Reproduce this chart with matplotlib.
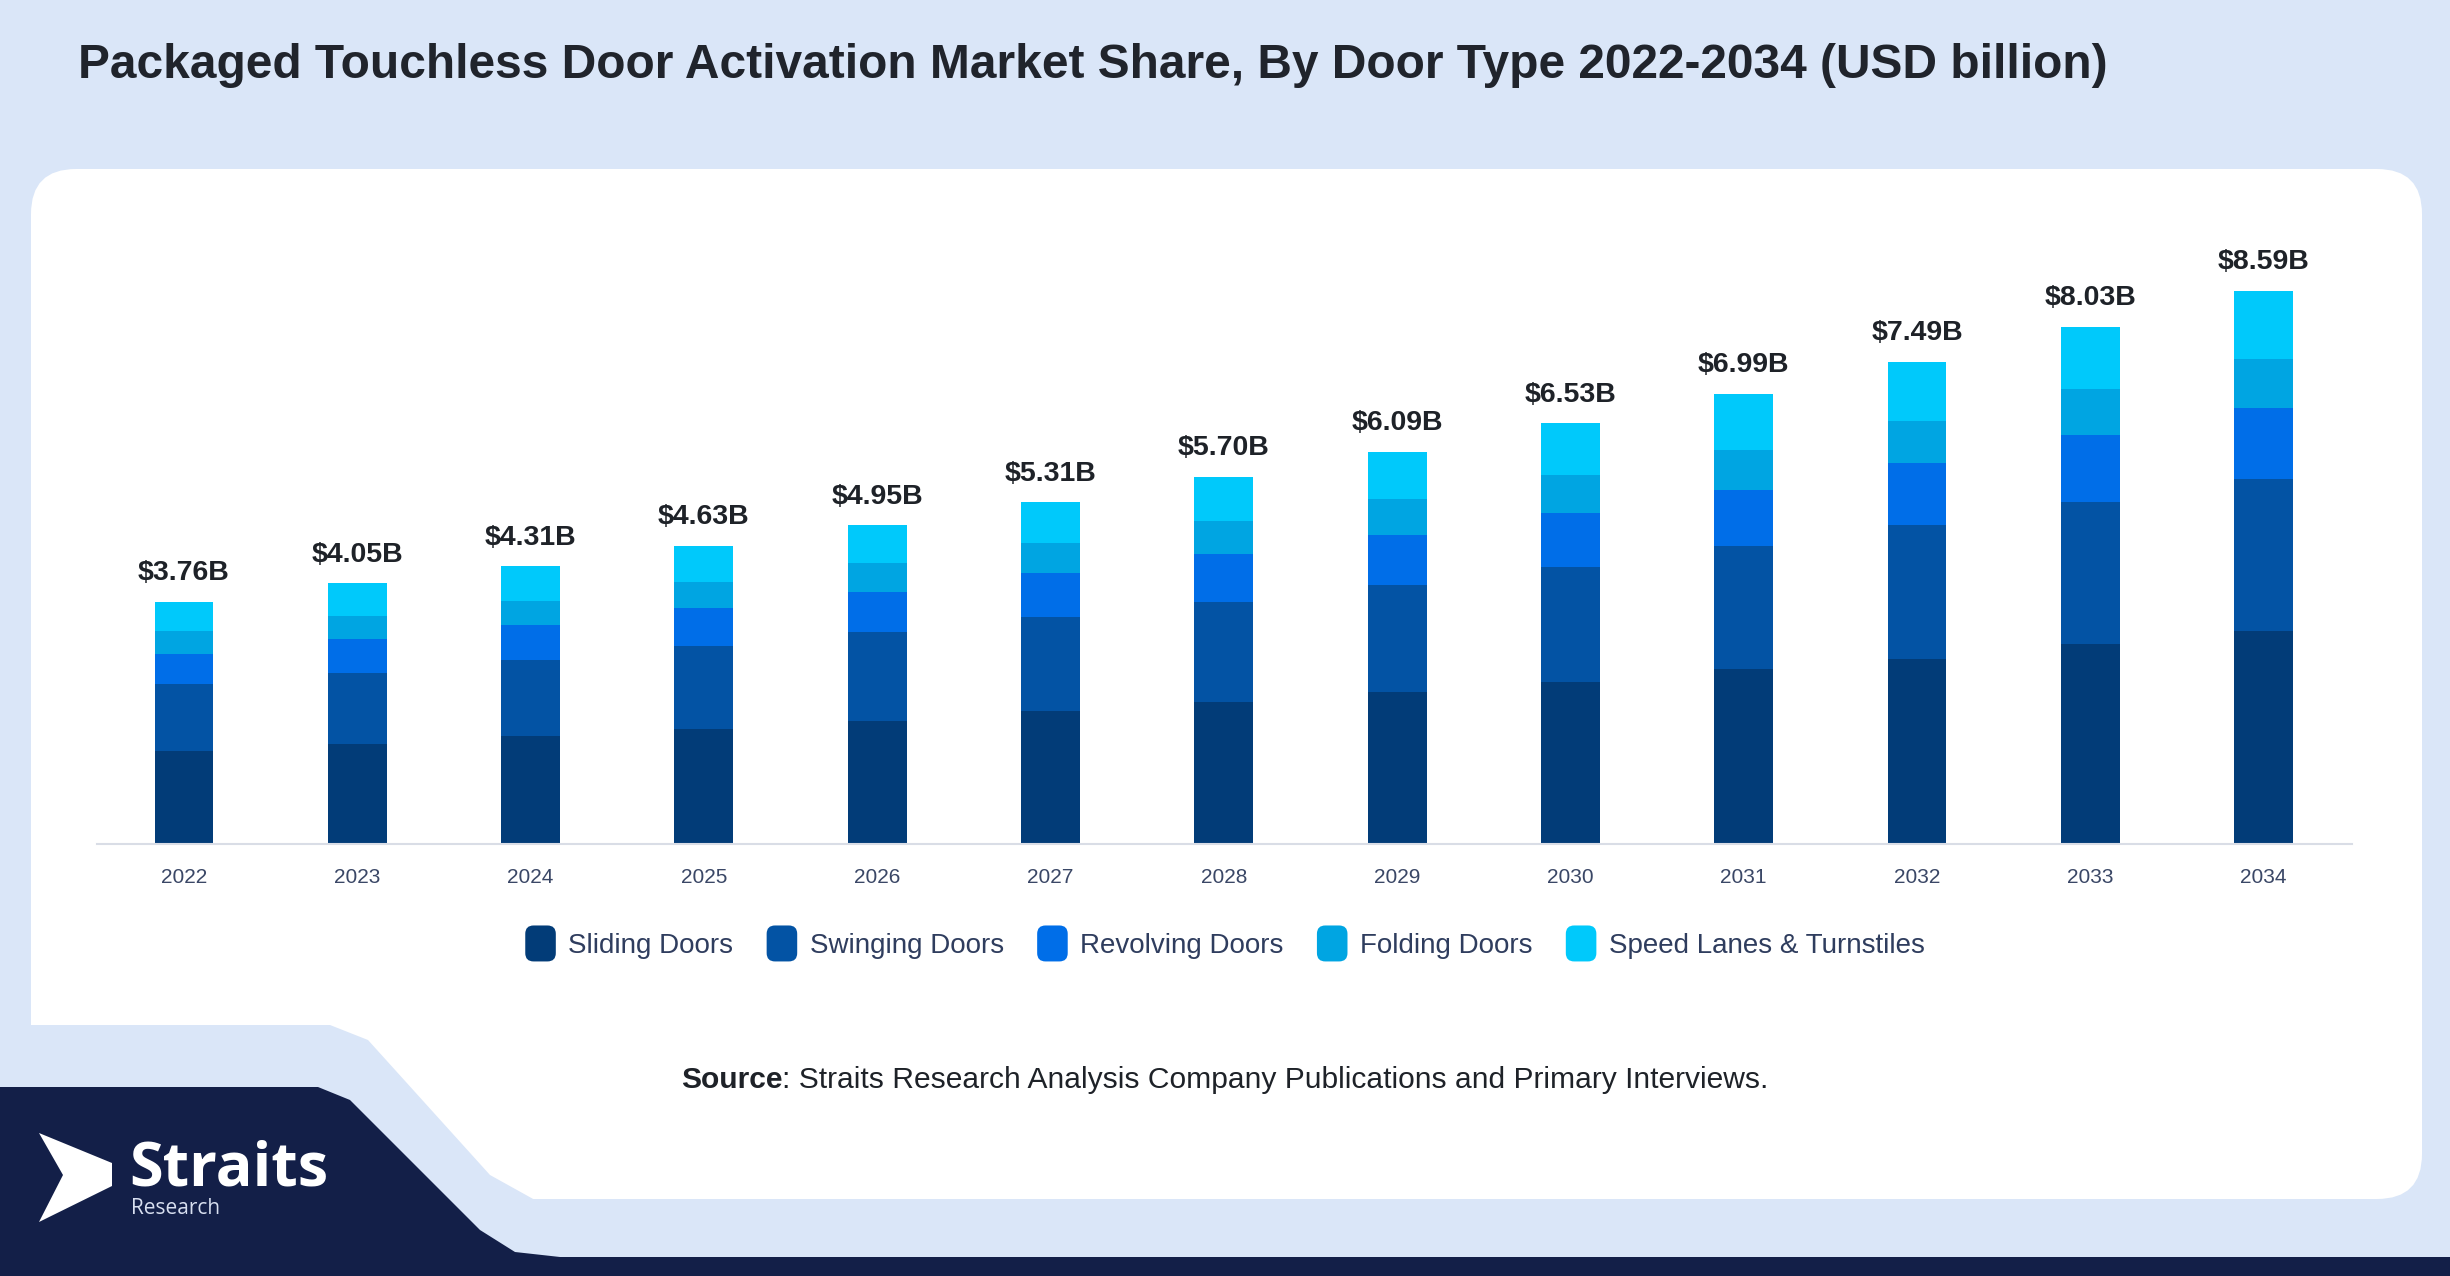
import matplotlib
matplotlib.use("Agg")
import matplotlib.pyplot as plt
import numpy as np
from matplotlib.patches import FancyBboxPatch, Polygon, Rectangle
from matplotlib.legend_handler import HandlerPatch
from matplotlib.patches import Patch

plt.rcParams['font.family'] = ['Liberation Sans', 'DejaVu Sans']

# Donnees (USD billion)
years = ['2022', '2023', '2024', '2025', '2026', '2027', '2028',
         '2029', '2030', '2031', '2032', '2033', '2034']
totals = [3.76, 4.05, 4.31, 4.63, 4.95, 5.31, 5.70, 6.09, 6.53, 6.99, 7.49, 8.03, 8.59]
sliding = [1.45, 1.56, 1.68, 1.79, 1.91, 2.06, 2.21, 2.36, 2.52, 2.71, 2.88, 3.11, 3.31]
swinging = [1.03, 1.10, 1.17, 1.28, 1.38, 1.46, 1.55, 1.66, 1.78, 1.91, 2.07, 2.20, 2.36]
revolving = [0.47, 0.52, 0.55, 0.60, 0.63, 0.69, 0.74, 0.78, 0.84, 0.88, 0.96, 1.04, 1.10]
folding = [0.35, 0.36, 0.38, 0.40, 0.44, 0.46, 0.52, 0.55, 0.59, 0.62, 0.66, 0.71, 0.76]
speed = [0.46, 0.51, 0.53, 0.56, 0.59, 0.64, 0.68, 0.74, 0.80, 0.87, 0.92, 0.97, 1.06]

series_names = ['Sliding Doors', 'Swinging Doors', 'Revolving Doors',
                'Folding Doors', 'Speed Lanes & Turnstiles']
series_colors = ['#023c78', '#0353a4', '#006ee8', '#00a5e2', '#00c9fb']

W, H = 2450, 1276
BG = '#dae6f8'
NAVY = '#131f48'

fig = plt.figure(figsize=(W / 100, H / 100), dpi=100)
fig.patch.set_facecolor(BG)

# fond : coordonnees en pixels
bg = fig.add_axes([0, 0, 1, 1])
bg.set_xlim(0, W)
bg.set_ylim(H, 0)
bg.axis('off')

# panneau blanc
panel = FancyBboxPatch((31, 169), 2391, 1030, boxstyle="round,pad=0,rounding_size=45",
                       fc='white', ec='none')
bg.add_patch(panel)
# coin bas gauche decoupe (bleu clair)
cut = Polygon([(0, 1025), (330, 1025), (368, 1040), (490, 1175), (535, 1200),
               (0, 1200)], closed=True, fc=BG, ec='none')
bg.add_patch(cut)
# forme bleu marine + bande du bas
navy = Polygon([(0, 1087), (318, 1087), (350, 1100), (370, 1120), (480, 1230),
                (515, 1252), (560, 1257), (W, 1257), (W, H), (0, H)],
               closed=True, fc=NAVY, ec='none')
bg.add_patch(navy)

# logo
arrow = Polygon([(39, 1133), (112, 1163), (112, 1186), (39, 1222), (63, 1175)],
                closed=True, fc='white', ec='none')
bg.add_patch(arrow)
bg.text(129, 1186, 'Straits', color='white', fontsize=44, fontweight='bold',
        family=['Open Sans', 'DejaVu Sans'], va='baseline', ha='left')
bg.text(131, 1214, 'Research', color='#d8dff0', fontsize=15,
        family=['Open Sans', 'DejaVu Sans'], va='baseline', ha='left')

# titre
bg.text(78, 66, 'Packaged Touchless Door Activation Market Share, By Door Type 2022-2034 (USD billion)',
        fontsize=34.5, fontweight='bold', color='#20242c', va='center', ha='left')

# graphique
ax = fig.add_axes([97 / W, 1 - 844 / H, 2255 / W, 644 / H])
ax.patch.set_alpha(0)
x = np.arange(len(years))
width = 0.34
bottom = np.zeros(len(years))
data = [sliding, swinging, revolving, folding, speed]
for vals, name, col in zip(data, series_names, series_colors):
    ax.bar(x, vals, width, bottom=bottom, color=col, label=name, linewidth=0)
    bottom = bottom + np.array(vals)

for i, t in enumerate(totals):
    ax.annotate('$%.2fB' % t, (x[i], bottom[i]), xytext=(0, 15.5), textcoords='offset points',
                ha='center', va='baseline', fontsize=20.5, fontweight='bold', color='#1e2228')

ax.set_xlim(-0.502, 12.51)
ax.set_ylim(0, 10)
ax.set_xticks(x)
ax.set_xticklabels(years, fontsize=15, color='#3a4766')
ax.tick_params(axis='x', length=0, pad=17)
ax.set_yticks([])
for s in ['top', 'right', 'left']:
    ax.spines[s].set_visible(False)
ax.spines['bottom'].set_color('#d9dde6')
ax.spines['bottom'].set_linewidth(1.5)


class RoundHandler(HandlerPatch):
    def create_artists(self, legend, orig_handle, xdescent, ydescent, width, height,
                       fontsize, trans):
        p = FancyBboxPatch((-xdescent, -ydescent - 4), width, height + 8,
                           boxstyle="round,pad=0,rounding_size=6",
                           fc=orig_handle.get_facecolor(), ec='none', transform=trans)
        return [p]


handles = [Patch(fc=c, label=n) for c, n in zip(series_colors, series_names)]
fig.legend(handles=handles, loc='center', bbox_to_anchor=(0.5, 1 - 945 / H), ncol=5,
           frameon=False, fontsize=20, labelcolor='#2f3d5e', handlelength=1.1,
           handleheight=1.0, handletextpad=0.45, columnspacing=1.2,
           handler_map={Patch: RoundHandler()})

# source
src = bg.text(681, 1080, 'Source', fontsize=21.6, fontweight='bold', color='#1e2228',
              va='center', ha='left')
bg.annotate(': Straits Research Analysis Company Publications and Primary Interviews.',
            xy=(1, 0), xycoords=src, va='bottom', ha='left', fontsize=21.6, color='#1e2228')

fig.savefig('out.png', dpi=100, facecolor=fig.get_facecolor())
